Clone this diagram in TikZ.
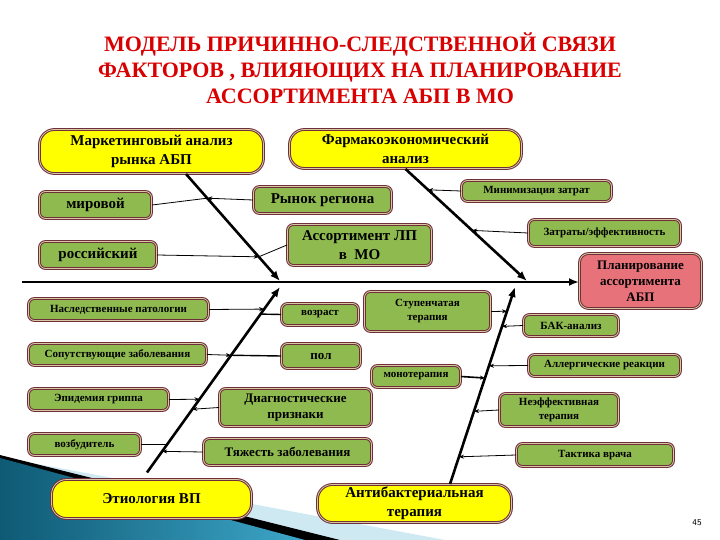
\documentclass[tikz,border=0pt]{standalone}
\usepackage{fontspec}
\setmainfont{Liberation Serif}
\usepackage{tikz}
\usetikzlibrary{positioning}
\usetikzlibrary{calc}
\usetikzlibrary{arrows.meta}
\definecolor{boxedge}{HTML}{6E2F3A}
\definecolor{edgelight}{HTML}{D8C9A2}
\definecolor{boxgreen}{HTML}{8FBA50}
\definecolor{boxyellow}{HTML}{FFFF00}
\definecolor{boxred}{HTML}{E8727A}
\definecolor{titlered}{HTML}{D80000}
\definecolor{decodark}{HTML}{0E5A74}
\definecolor{decomid}{HTML}{3DA6C8}
\definecolor{decolight}{HTML}{CFE9F2}
\tikzset{>=latex}
\tikzset{
  box/.style={draw=boxedge, double=edgelight, line width=1pt, double distance=0.8pt,
    inner sep=1pt, align=center},
  greenbox/.style={box, fill=boxgreen, rounded corners=6pt},
  yellowbox/.style={box, fill=boxyellow, rounded corners=15pt},
  redbox/.style={box, fill=boxred, rounded corners=9pt},
  bigtxt/.style={font=\bfseries\fontsize{15}{19}\selectfont},
  midtxt/.style={font=\bfseries\fontsize{13}{16}\selectfont},
  smalltxt/.style={font=\bfseries\fontsize{11}{14}\selectfont},
  bone/.style={line width=2.6pt, -{Latex[length=10pt,width=8pt]}},
  twig/.style={line width=0.8pt},
}

\begin{document}
\begin{tikzpicture}[x=1pt, y=-1pt, >={Stealth[length=5pt,width=4pt]}]

        % Page
        \fill[white] (0,0) rectangle (720,540);
        \useasboundingbox (0,0) rectangle (720,540);

        % Corner decoration
        \fill[decolight] (0,457) -- (445,540) -- (0,540) -- cycle;
        \fill[black] (0,455) -- (340,540) -- (0,540) -- cycle;
        \shade[left color=decodark, right color=decomid] (0,458) -- (305,540) -- (0,540) -- cycle;

        % Title
        \node[font=\bfseries\fontsize{22}{26}\selectfont, text=titlered, align=center] (title) at (360,68)
          {МОДЕЛЬ ПРИЧИННО-СЛЕДСТВЕННОЙ СВЯЗИ\\ФАКТОРОВ , ВЛИЯЮЩИХ НА ПЛАНИРОВАНИЕ\\АССОРТИМЕНТА АБП В МО};

        % Upper causes
        \node[yellowbox, bigtxt, minimum width=224pt, minimum height=44pt] (mark) at (151.5,151.5) {Маркетинговый анализ\\рынка АБП};
        \node[yellowbox, bigtxt, minimum width=232pt, minimum height=39pt] (pharm) at (405.5,149) {Фармакоэкономический\\анализ};
        \node[greenbox, bigtxt, minimum width=112pt, minimum height=27pt] (world) at (95.5,205) {мировой};
        \node[greenbox, bigtxt, minimum width=117pt, minimum height=27pt] (russia) at (98,255) {российский};
        \node[greenbox, bigtxt, minimum width=138pt, minimum height=27pt] (region) at (322.5,200) {Рынок региона};
        \node[greenbox, bigtxt, minimum width=144pt, minimum height=41pt] (assort) at (359.5,245) {Ассортимент ЛП\\в~~МО};
        \node[greenbox, smalltxt, minimum width=150pt, minimum height=21pt] (mincost) at (536.5,191) {Минимизация затрат};
        \node[greenbox, smalltxt, minimum width=152pt, minimum height=27pt] (costeff) at (604.5,233) {Затраты/эффективность};

        % Effect
        \node[redbox, midtxt, minimum width=122pt, minimum height=55pt] (plan) at (640.5,281) {Планирование\\ассортимента\\АБП};

        % Lower causes
        \node[greenbox, smalltxt, minimum width=180pt, minimum height=22pt] (hered) at (118.5,309.5) {Наследственные патологии};
        \node[greenbox, smalltxt, minimum width=178pt, minimum height=22pt] (comorb) at (117.5,354.5) {Сопутствующие заболевания};
        \node[greenbox, smalltxt, minimum width=140pt, minimum height=22pt] (flu) at (98.5,399.5) {Эпидемия гриппа};
        \node[greenbox, smalltxt, minimum width=112pt, minimum height=22pt] (agent) at (84.5,444.5) {возбудитель};
        \node[yellowbox, bigtxt, minimum width=200pt, minimum height=39pt] (etiol) at (151.5,499) {Этиология ВП};
        \node[greenbox, smalltxt, minimum width=77pt, minimum height=22pt] (age) at (320,314.5) {возраст};
        \node[greenbox, midtxt, minimum width=79pt, minimum height=25pt] (sex) at (321,356) {пол};
        \node[greenbox, midtxt, minimum width=152pt, minimum height=38pt] (diag) at (295.5,407.5) {Диагностические\\признаки};
        \node[greenbox, midtxt, minimum width=168pt, minimum height=27pt] (sever) at (287.5,452) {Тяжесть заболевания};
        \node[greenbox, smalltxt, minimum width=126pt, minimum height=40pt] (stepther) at (427.5,311.5) {Ступенчатая\\терапия};
        \node[greenbox, smalltxt, minimum width=89pt, minimum height=22pt] (mono) at (416,376.5) {монотерапия};
        \node[greenbox, smalltxt, minimum width=95pt, minimum height=22pt] (bak) at (571,325.5) {БАК-анализ};
        \node[greenbox, smalltxt, minimum width=152pt, minimum height=22pt] (allerg) at (604.5,365.5) {Аллергические реакции};
        \node[greenbox, smalltxt, minimum width=119pt, minimum height=33pt] (ineff) at (559,410) {Неэффективная\\терапия};
        \node[greenbox, smalltxt, minimum width=157pt, minimum height=23pt] (tactic) at (595,455) {Тактика врача};
        \node[yellowbox, bigtxt, minimum width=194pt, minimum height=38pt] (antib) at (414.5,503.5) {Антибактериальная\\терапия};

        % Spine
        \coordinate (tail) at (22,282);
        \draw[bone] (tail) -- (tail -| plan.west);

        % Bones
        \coordinate (a0) at ($(mark.south)+(34.5,0)$);
        \coordinate (b0) at (pharm.south);
        \coordinate (c0) at ($(etiol.north)+(-4.5,-6.5)$);
        \coordinate (d0) at ($(antib.north)+(35.5,0)$);
        \coordinate (j1) at (280,281);
        \coordinate (j2) at (527,281);
        \coordinate (j3) at (515,287);
        \coordinate (j4) at (280,287);
        \draw[bone] (a0) -- (j1);
        \draw[bone] (b0) -- (j2);
        \draw[bone] (c0) -- (j4);
        \draw[bone] (d0) -- (j3);

        % Twigs, upper
        \draw[twig] (world.east) -- ($(a0)!0.226!(j1)$);
        \draw[twig, ->] (region.west) -- ($(a0)!0.226!(j1)$);
        \draw[twig, ->] (russia.east) -- ($(a0)!0.774!(j1)$);
        \draw[twig] (assort.west) -- ($(a0)!0.774!(j1)$);
        \draw[twig, ->] (mincost.west) -- ($(b0)!0.186!(j2)$);
        \draw[twig, ->] (costeff.west) -- ($(b0)!0.548!(j2)$);

        % Twigs, lower left
        \draw[twig, ->] (hered.east) -- ($(c0)!0.881!(j4)$);
        \draw[twig, line width=1.4pt] (age.west) -- ($(c0)!0.854!(j4)$);
        \draw[twig, ->] (comorb.east) -- ($(c0)!0.632!(j4)$);
        \draw[twig, line width=1.4pt] (sex.west) -- ($(c0)!0.632!(j4)$);
        \draw[twig, ->] (flu.east) -- ($(c0)!0.395!(j4)$);
        \draw[twig, ->] (diag.west) -- ($(c0)!0.341!(j4)$);
        \draw[twig] (agent.east) -- ($(c0)!0.151!(j4)$);
        \draw[twig, ->] (sever.west) -- ($(c0)!0.114!(j4)$);

        % Twigs, lower right
        \draw[twig, ->] (stepther.east) -- ($(d0)!0.877!(j3)$);
        \draw[twig, ->] (bak.west) -- ($(d0)!0.8!(j3)$);
        \draw[twig, ->] (allerg.west) -- ($(d0)!0.6!(j3)$);
        \draw[twig, line width=1.6pt, ->] (mono.east) -- ($(d0)!0.538!(j3)$);
        \draw[twig, ->] (ineff.west) -- ($(d0)!0.369!(j3)$);
        \draw[twig, ->] (tactic.west) -- ($(d0)!0.138!(j3)$);

        % Page number
        \node[font=\sffamily\fontsize{9}{10}\selectfont] (pagenum) at (697,523) {45};

    \end{tikzpicture}
\end{document}
